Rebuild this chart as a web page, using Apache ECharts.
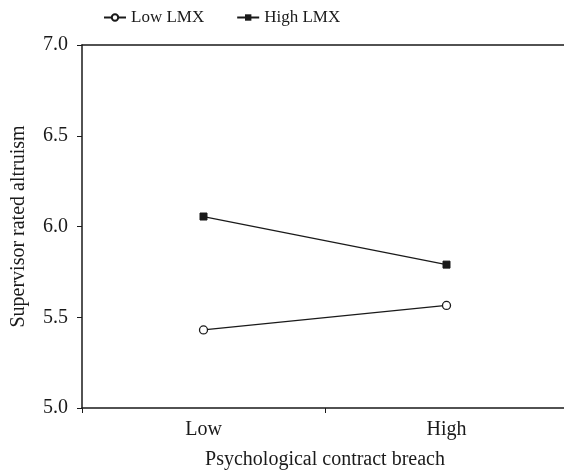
<!DOCTYPE html>
<html>
<head>
<meta charset="utf-8">
<script src="https://cdn.jsdelivr.net/npm/echarts@6/dist/echarts.min.js"></script>
<style>
  html, body { margin: 0; padding: 0; background: #fff; }
  #chart { width: 564px; height: 470px; }
</style>
</head>
<body>
<div id="chart"></div>
<script>
var categories = ['Low', 'High'];
var seriesNames = ['Low LMX', 'High LMX'];
var lowLMX = [5.43, 5.565];
var highLMX = [6.055, 5.79];
var yTicks = [5.0, 5.5, 6.0, 6.5, 7.0];

function DrawChart() {
    var chart = echarts.init(document.getElementById('chart'));
    var font = 'Liberation Serif, Times New Roman, serif';
    var ink = '#1a1a1a';
    var option = {
        animation: false,
        textStyle: { fontFamily: font, color: ink },
        legend: {
            top: 4,
            left: 98,
            itemGap: 32,
            itemWidth: 22,
            itemHeight: 8,
            textStyle: { fontFamily: font, fontSize: 17, color: ink },
            data: seriesNames
        },
        grid: {
            left: 82,
            right: -4,
            top: 45,
            bottom: 62,
            containLabel: false,
            outerBoundsMode: 'none'
        },
        xAxis: [{
            type: 'category',
            data: categories,
            boundaryGap: true,
            name: 'Psychological contract breach',
            nameLocation: 'middle',
            nameGap: 42,
            nameTextStyle: { fontFamily: font, fontSize: 20, color: ink },
            axisLine: { lineStyle: { color: ink, width: 1.5 } },
            axisTick: { show: true, length: 5, lineStyle: { color: ink } },
            axisLabel: { fontFamily: font, fontSize: 20, color: ink, margin: 12 },
            splitLine: { show: false }
        }, {
            type: 'category',
            data: categories,
            position: 'top',
            axisLine: { lineStyle: { color: ink, width: 1.5 } },
            axisTick: { show: false },
            axisLabel: { show: false }
        }],
        yAxis: {
            type: 'value',
            min: yTicks[0],
            max: yTicks[yTicks.length - 1],
            interval: 0.5,
            name: 'Supervisor rated altruism',
            nameLocation: 'middle',
            nameGap: 53,
            nameTextStyle: { fontFamily: font, fontSize: 20, color: ink },
            axisLine: { show: true, lineStyle: { color: ink, width: 1.5 } },
            axisTick: { show: true, length: 5, lineStyle: { color: ink } },
            axisLabel: {
                fontFamily: font, fontSize: 20, color: ink, margin: 14,
                formatter: function (v) { return v.toFixed(1); }
            },
            splitLine: { show: false }
        },
        series: [{
            name: seriesNames[0],
            type: 'line',
            data: lowLMX,
            symbol: 'circle',
            symbolSize: 8,
            itemStyle: { color: '#fff', borderColor: ink, borderWidth: 1.3 },
            lineStyle: { color: ink, width: 1.3 }
        }, {
            name: seriesNames[1],
            type: 'line',
            data: highLMX,
            symbol: 'rect',
            symbolSize: 7,
            itemStyle: { color: ink, borderColor: ink },
            lineStyle: { color: ink, width: 1.3 }
        }]
    };
    chart.setOption(option);
}

DrawChart();
</script>
</body>
</html>
